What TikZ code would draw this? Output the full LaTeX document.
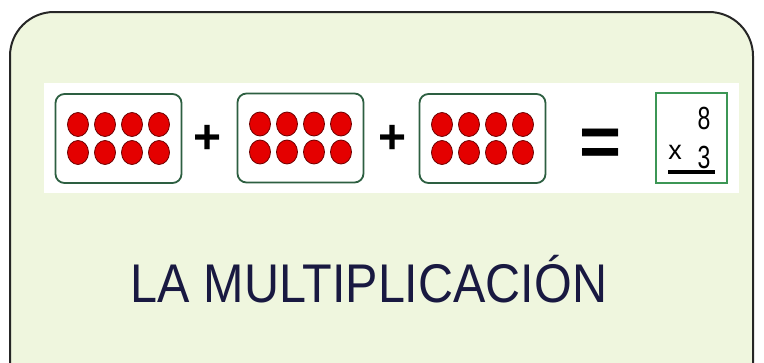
\documentclass[tikz,border=0pt]{standalone}
\usepackage{fontspec}
\setmainfont{Liberation Sans}
\definecolor{bggreen}{RGB}{239,246,222}
\definecolor{grpgreen}{RGB}{45,95,65}
\definecolor{ansgreen}{RGB}{60,150,85}
\definecolor{dotred}{RGB}{228,0,0}
\definecolor{dotdark}{RGB}{110,0,0}
\definecolor{inknavy}{RGB}{25,25,65}

\begin{document}
\begin{tikzpicture}[x=1pt, y=-1pt,
    grp/.style={draw=grpgreen, line width=1.8pt, fill=white, rounded corners=9pt,
        minimum width=126pt, minimum height=89pt},
    dot/.style={fill=dotred, draw=dotdark, line width=0.8pt},
    op/.style={font=\bfseries\fontsize{48}{48}\selectfont, inner sep=0pt},
    digit/.style={font=\fontsize{32}{32}\selectfont, inner sep=0pt, xscale=0.72, transform shape}]
    \clip (0,0) rectangle (764,362);
    \draw[fill=bggreen, draw=black!85, line width=2pt, rounded corners=44pt] (10,12) rectangle (753,420);
    \fill[white] (44,83) rectangle (739,193);

    \node[grp] (box1) at (118.5,138.5) {};
    \node[grp] (box2) at (300.5,138) {};
    \node[grp] (box3) at (482.5,138.5) {};
    \foreach \b in {box1,box2,box3}
        \foreach \dx in {-40.5,-13.5,13.5,40.5}
            \foreach \dy in {-14,14}
                \filldraw[dot] ([shift={(\dx,\dy)}]\b.center) ellipse (10.5 and 12);

    \node[op] (plus1) at (208,139.5) {+};
    \node[op] (plus2) at (393,139.5) {+};
    \node[op, font=\bfseries\fontsize{72}{72}\selectfont] (equal) at (600.5,147.5) {=};

    \node[draw=ansgreen, line width=2.5pt, fill=white, minimum width=71pt, minimum height=90pt] (ans) at (691.5,138) {};
    \node[digit] (mult) at (704,118) {8};
    \node[digit] (mplier) at (704,157) {3};
    \node[font=\fontsize{27}{27}\selectfont, inner sep=0pt] (times) at (675,152) {x};
    \draw[line width=3.5pt] (668,172) -- (715,172);

    \node[font=\fontsize{54.5}{54.5}\selectfont, text=inknavy, anchor=base, inner sep=0pt,
        xscale=0.89, transform shape] (title) at (369,302) {LA MULTIPLICACIÓN};
\end{tikzpicture}
\end{document}
